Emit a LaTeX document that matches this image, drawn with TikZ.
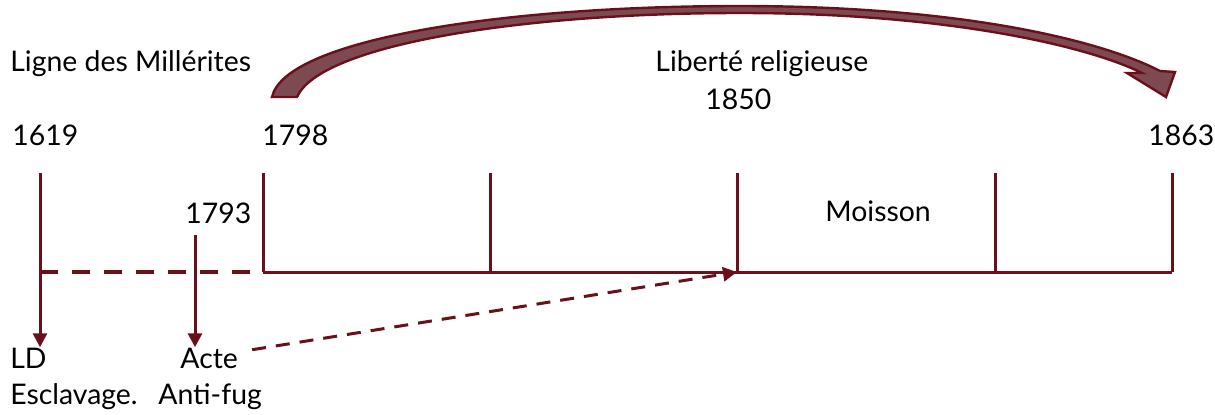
\documentclass[tikz,border=0pt]{standalone}
\usepackage{fontspec}
\setmainfont{Lato}
\usetikzlibrary{arrows.meta}
\definecolor{bord}{HTML}{6B0F1A}
\definecolor{flech}{HTML}{7D4A52}

\begin{document}
\begin{tikzpicture}[x=0.5pt,y=-0.5pt,
  lbl/.style={font=\fontsize{14.2}{16}\selectfont,inner sep=0pt,anchor=base west},
  tl/.style={bord,line width=1.5pt},
  dash tl/.style={bord,line width=2pt,dash pattern=on 9pt off 7pt},
  pt/.style={-{Triangle[length=7pt,width=7pt]}}]
  \useasboundingbox (0,0) rectangle (1215,414);
  % labels
  \node[lbl] (ligne) at (10,71) {Ligne des Millérites};
  \node[lbl] (lib) at (655,71) {Liberté religieuse};
  \node[lbl] (d1850) at (705,109) {1850};
  \node[lbl] (d1619) at (12,145) {1619};
  \node[lbl] (d1798) at (262,145) {1798};
  \node[lbl] (d1863) at (1148,145) {1863};
  \node[lbl] (d1793) at (185,223) {1793};
  \node[lbl] (moisson) at (825,221) {Moisson};
  \node[lbl] (ld) at (10,368) {LD};
  \node[lbl] (escl) at (10,404) {Esclavage.};
  \node[lbl] (acte) at (180,368) {Acte};
  \node[lbl] (anti) at (158,404) {Anti-fug};
  % timeline
  \coordinate (t1619) at (40,173);
  \coordinate (b1619) at (40,272);
  \coordinate (t1793) at (195,235);
  \coordinate (s1798) at (263,272);
  \coordinate (m1850) at (737,272);
  \coordinate (e1863) at (1172,272);
  \draw[tl] (t1619) -- (b1619);
  \draw[dash tl] (b1619) -- (s1798);
  \draw[tl] (s1798) -- (e1863);
  \foreach \x in {263,490,737,995,1172}
    \draw[tl] (\x,173) -- (\x,272);
  \draw[tl,pt] (b1619) -- (ld.north -| b1619);
  \draw[tl,pt] (t1793) -- (acte.north -| t1793);
  \draw[bord,line width=1.5pt,dash pattern=on 7pt off 5pt,pt,shorten <=7pt]
    (acte.east) ++(0,-6) -- (m1850);
  % curved arrow
  \draw[bord,line width=1.2pt,fill=flech,line join=miter]
    (272,97) .. controls (285,40) and (500,6) .. (740,6)
    .. controls (960,6) and (1100,40) .. (1160,71)
    -- (1175,72) -- (1166,97) -- (1127,73) -- (1142,73)
    .. controls (1090,47) and (950,13) .. (740,13)
    .. controls (520,13) and (320,45) .. (297,97) -- cycle;
\end{tikzpicture}
\end{document}
